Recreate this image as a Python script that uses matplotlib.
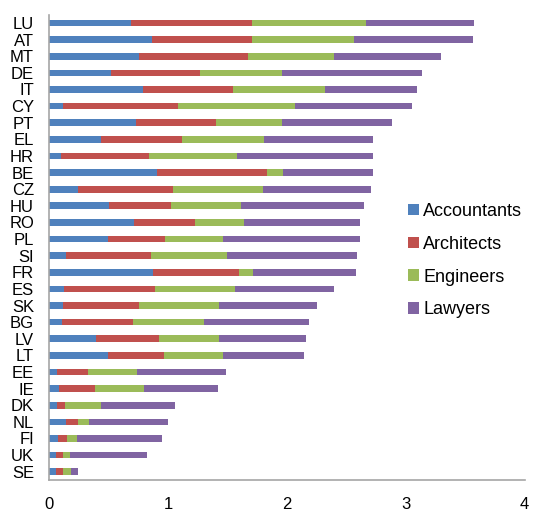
import matplotlib.pyplot as plt
import numpy as np

plt.rcParams['font.family'] = ['Liberation Sans', 'DejaVu Sans']

countries = ['LU', 'AT', 'MT', 'DE', 'IT', 'CY', 'PT', 'EL', 'HR', 'BE', 'CZ', 'HU', 'RO', 'PL',
             'SI', 'FR', 'ES', 'SK', 'BG', 'LV', 'LT', 'EE', 'IE', 'DK', 'NL', 'FI', 'UK', 'SE']
accountants = [0.685, 0.862, 0.758, 0.522, 0.786, 0.113, 0.727, 0.435, 0.101, 0.909, 0.242, 0.503, 0.710, 0.494,
               0.143, 0.870, 0.121, 0.118, 0.109, 0.391, 0.494, 0.067, 0.084, 0.067, 0.141, 0.076, 0.056, 0.056]
architects = [1.021, 0.847, 0.917, 0.746, 0.763, 0.973, 0.676, 0.685, 0.738, 0.926, 0.797, 0.521, 0.516, 0.480,
              0.710, 0.727, 0.769, 0.637, 0.593, 0.532, 0.474, 0.259, 0.303, 0.065, 0.098, 0.076, 0.059, 0.059]
engineers = [0.960, 0.856, 0.724, 0.691, 0.772, 0.980, 0.556, 0.685, 0.738, 0.132, 0.760, 0.590, 0.413, 0.491,
             0.643, 0.115, 0.673, 0.671, 0.598, 0.503, 0.494, 0.410, 0.413, 0.301, 0.098, 0.079, 0.057, 0.065]
lawyers = [0.909, 1.004, 0.898, 1.181, 0.777, 0.987, 0.928, 0.920, 1.148, 0.758, 0.909, 1.038, 0.974, 1.148,
           1.094, 0.870, 0.836, 0.825, 0.889, 0.737, 0.679, 0.751, 0.620, 0.628, 0.665, 0.718, 0.648, 0.059]

series = [('Accountants', accountants, '#4F81BD'),
          ('Architects', architects, '#C0504D'),
          ('Engineers', engineers, '#9BBB59'),
          ('Lawyers', lawyers, '#8064A2')]

fig = plt.figure(figsize=(5.33, 5.11), dpi=100)
ax = fig.add_axes([0.0925, 0.0607, 0.8916, 0.9105])

y = np.arange(len(countries))
left = np.zeros(len(countries))
for name, vals, col in series:
    vals = np.array(vals)
    ax.barh(y, vals, left=left, height=0.4, color=col, label=name)
    left += vals

ax.set_ylim(len(countries) - 0.5, -0.5)
ax.set_xlim(0, 4)
ax.set_yticks(y)
ax.set_yticklabels(countries)
ax.set_xticks([0, 1, 2, 3, 4])

for s in ['top', 'right']:
    ax.spines[s].set_visible(False)
for s in ['left', 'bottom']:
    ax.spines[s].set_color('#A6A6A6')
    ax.spines[s].set_linewidth(1.2)

ax.tick_params(axis='y', length=0, pad=11, labelsize=12)
ax.tick_params(axis='x', length=0, pad=12, labelsize=12)

ax.legend(loc='center left', bbox_to_anchor=(0.752, 0.490), bbox_transform=fig.transFigure,
          frameon=False, fontsize=13, handlelength=0.6, handleheight=0.6,
          handletextpad=0.25, labelspacing=0.88, borderaxespad=0)

fig.savefig('out.png', dpi=100)
